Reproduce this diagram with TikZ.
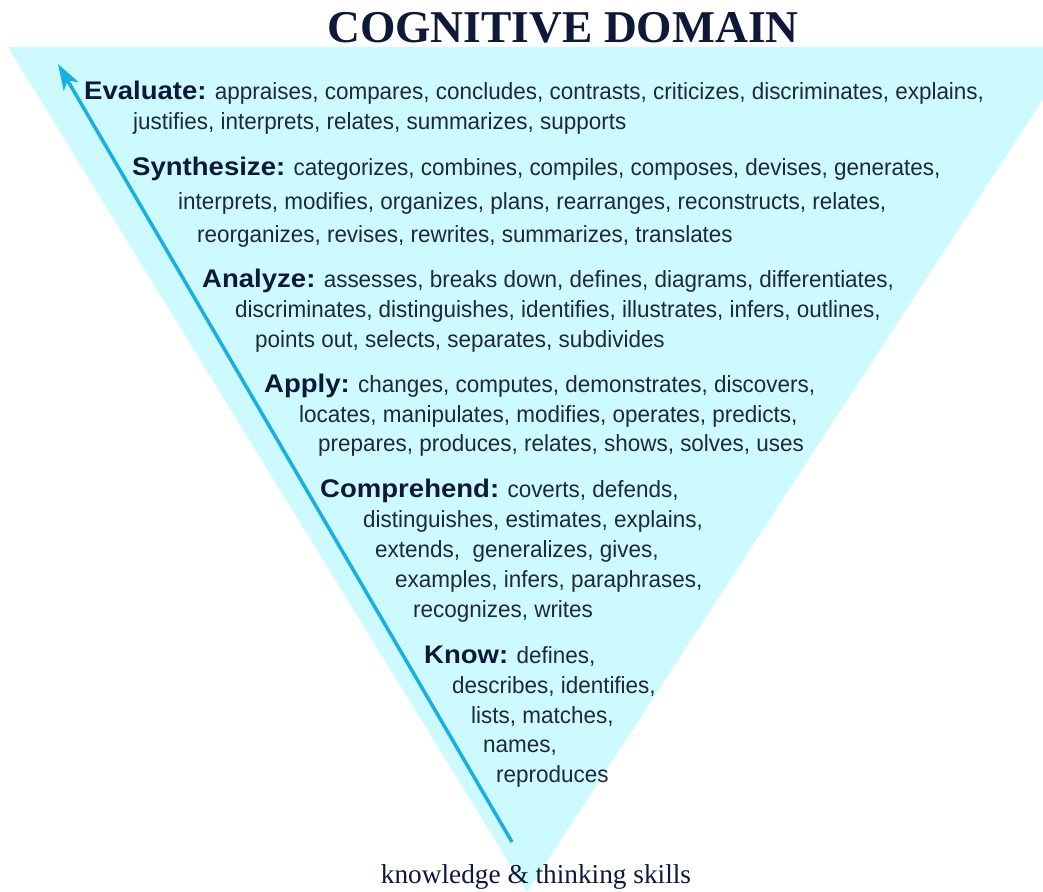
\documentclass[tikz,border=0pt]{standalone}
\usepackage{fontspec}
\setmainfont[FakeStretch=0.96]{Liberation Sans}
\newfontfamily\headface[FakeStretch=1.08]{Liberation Sans}
\newfontfamily\serifface{Liberation Serif}
\usetikzlibrary{arrows.meta}
\definecolor{pyramid}{RGB}{205,250,254}
\definecolor{inktext}{RGB}{30,40,58}
\definecolor{inkhead}{RGB}{14,24,56}
\definecolor{arrowblue}{RGB}{22,176,226}
% bold level name at the start of each group of verbs
\newcommand{\lvl}[1]{{\headface\fontsize{25.5}{25.5}\selectfont\bfseries\color{inkhead}#1}}
\begin{document}
\begin{tikzpicture}[x=1pt,y=-1pt,
  verbs/.style={anchor=base west, inner sep=0pt,
    font=\fontsize{23.4}{23.4}\selectfont, text=inktext},
  heading/.style={anchor=base, inner sep=0pt,
    font=\serifface\bfseries\fontsize{45.5}{45.5}\selectfont, text=inkhead},
  caption/.style={anchor=base, inner sep=0pt,
    font=\serifface\fontsize{27.3}{27.3}\selectfont, text=inkhead},
  climb/.style={arrowblue, line width=3.5pt,
    -{Stealth[length=26pt,width=17pt,inset=7pt]}}]
\useasboundingbox (0,0) rectangle (1043,891);

% inverted triangle, cut off by the right edge of the page
\begin{scope}
  \clip (0,0) rectangle (1043,891);
  \fill[pyramid] (8,47) -- (1077,47) -- (527,892) -- cycle;
\end{scope}

\node[heading] (title) at (563,43) {COGNITIVE DOMAIN};

% rising arrow along the left side
\coordinate (arrowtail) at (512,842);
\coordinate (arrowtip) at (58,64);
\draw[climb] (arrowtail) -- (arrowtip);

% Evaluate
\node[verbs] (ev1) at (84,99) {\lvl{Evaluate:} appraises, compares, concludes, contrasts, criticizes, discriminates, explains,};
\node[verbs] (ev2) at (133,129) {justifies, interprets, relates, summarizes, supports};
% Synthesize
\node[verbs] (sy1) at (132,175) {\lvl{Synthesize:} categorizes, combines, compiles, composes, devises, generates,};
\node[verbs] (sy2) at (178,209) {interprets, modifies, organizes, plans, rearranges, reconstructs, relates,};
\node[verbs] (sy3) at (197,242) {reorganizes, revises, rewrites, summarizes, translates};
% Analyze
\node[verbs] (an1) at (202,287) {\lvl{Analyze:} assesses, breaks down, defines, diagrams, differentiates,};
\node[verbs] (an2) at (235,317) {discriminates, distinguishes, identifies, illustrates, infers, outlines,};
\node[verbs] (an3) at (255,347) {points out, selects, separates, subdivides};
% Apply
\node[verbs] (ap1) at (264,392) {\lvl{Apply:} changes, computes, demonstrates, discovers,};
\node[verbs] (ap2) at (299,422) {locates, manipulates, modifies, operates, predicts,};
\node[verbs] (ap3) at (318,451) {prepares, produces, relates, shows, solves, uses};
% Comprehend
\node[verbs] (co1) at (320,497) {\lvl{Comprehend:} coverts, defends,};
\node[verbs] (co2) at (363,527) {distinguishes, estimates, explains,};
\node[verbs] (co3) at (375,557) {extends,\ \ generalizes, gives,};
\node[verbs] (co4) at (395,587) {examples, infers, paraphrases,};
\node[verbs] (co5) at (413,617) {recognizes, writes};
% Know
\node[verbs] (kn1) at (424,663) {\lvl{Know:} defines,};
\node[verbs] (kn2) at (452,693) {describes, identifies,};
\node[verbs] (kn3) at (471,723) {lists, matches,};
\node[verbs] (kn4) at (483,752) {names,};
\node[verbs] (kn5) at (496,782) {reproduces};

\node[caption] (skills) at (536,883) {knowledge \& thinking skills};
\end{tikzpicture}
\end{document}
